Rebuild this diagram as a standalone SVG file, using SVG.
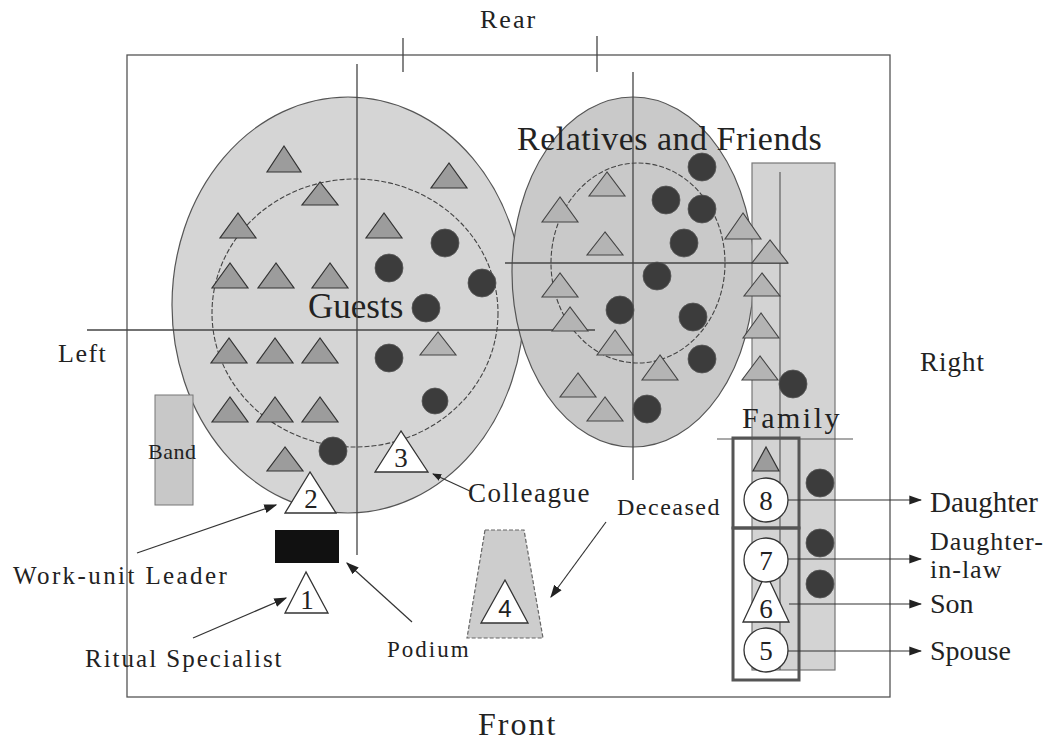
<svg xmlns="http://www.w3.org/2000/svg" width="1057" height="740" viewBox="0 0 1057 740">
<defs>
<style>
text{font-family:"Liberation Serif","Times New Roman",serif;fill:#222}
.ax{stroke:#444;stroke-width:1.3;fill:none}
.gt{fill:#9c9c9c;stroke:#333;stroke-width:1.2}
.lt{fill:#b4b4b4;stroke:#444;stroke-width:1.1}
.dc{fill:#3c3c3c;stroke:#555;stroke-width:0.8}
.wt{fill:#fff;stroke:#333;stroke-width:1.3}
.num{font-size:27px;text-anchor:middle}
.lbl{stroke:#333;stroke-width:1.2;fill:none}
.box{fill:none;stroke:#555;stroke-width:3}
</style>
<marker id="ah" viewBox="0 0 10 10" refX="9" refY="5" markerWidth="9" markerHeight="9" orient="auto" markerUnits="userSpaceOnUse">
<path d="M0,1 L10,5 L0,9 z" fill="#222"/>
</marker>
<marker id="ah2" viewBox="0 0 10 10" refX="9" refY="5" markerWidth="13" markerHeight="13" orient="auto" markerUnits="userSpaceOnUse">
<path d="M0,1.5 L10,5 L0,8.5 z" fill="#222"/>
</marker>
</defs>
<rect width="1057" height="740" fill="#fff"/>

<g id="frame">
<rect x="127" y="55" width="763" height="642" fill="none" stroke="#555" stroke-width="1.3"/>
<line class="ax" x1="403" y1="38" x2="403" y2="72"/>
<line class="ax" x1="597" y1="36" x2="597" y2="72"/>
<text x="480" y="28" font-size="26" letter-spacing="2">Rear</text>
<text x="478" y="735" font-size="32" letter-spacing="2">Front</text>
<text x="58" y="362" font-size="26" letter-spacing="1.5">Left</text>
<text x="920" y="371" font-size="27" letter-spacing="1">Right</text>
</g>

<g id="guests">
<ellipse cx="348" cy="305" rx="176" ry="208" fill="#d5d5d5" stroke="#555" stroke-width="1.2"/>
<ellipse cx="355" cy="313" rx="143" ry="134" fill="none" stroke="#444" stroke-width="1.1" stroke-dasharray="5 2"/>
<text x="308" y="318" font-size="35">Guests</text>
</g>

<g id="relatives">
<ellipse cx="633" cy="272" rx="121" ry="175" fill="#c9c9c9" stroke="#555" stroke-width="1.2"/>
<ellipse cx="638" cy="263" rx="87" ry="100" fill="none" stroke="#444" stroke-width="1.1" stroke-dasharray="5 2"/>
<text x="517" y="150" font-size="34" letter-spacing="0.5">Relatives and Friends</text>
</g>

<g id="family-area">
<rect x="752" y="163" width="83" height="507" fill="#d3d3d3" stroke="#777" stroke-width="1.2"/>
<line x1="780" y1="172" x2="780" y2="670" stroke="#555" stroke-width="1.1"/>
<text x="742" y="428" font-size="30" letter-spacing="2.5">Family</text>
<line x1="717" y1="439" x2="853" y2="439" stroke="#555" stroke-width="1.1"/>
</g>

<g id="axes">
<line class="ax" x1="357" y1="64" x2="357" y2="555"/>
<line class="ax" x1="87" y1="330" x2="595" y2="330"/>
<line class="ax" x1="633" y1="72" x2="633" y2="480"/>
<line class="ax" x1="505" y1="263" x2="788" y2="263"/>
</g>

<g id="guest-people">
<polygon class="gt" points="284,146 267,172 301,172"/>
<polygon class="gt" points="449,163 431,188 467,188"/>
<polygon class="gt" points="320,182 302,205 338,205"/>
<polygon class="gt" points="238,213 220,238 256,238"/>
<polygon class="gt" points="384,213 366,238 402,238"/>
<polygon class="gt" points="230,263 212,288 248,288"/>
<polygon class="gt" points="276,263 258,288 294,288"/>
<polygon class="gt" points="330,263 312,288 348,288"/>
<polygon class="gt" points="229,338 211,363 247,363"/>
<polygon class="gt" points="275,338 257,363 293,363"/>
<polygon class="gt" points="320,338 302,363 338,363"/>
<polygon class="lt" points="438,332 420,355 456,355"/>
<polygon class="gt" points="230,397 212,422 248,422"/>
<polygon class="gt" points="275,397 257,422 293,422"/>
<polygon class="gt" points="320,397 302,422 338,422"/>
<polygon class="gt" points="285,447 267,471 303,471"/>
<circle class="dc" cx="445" cy="243" r="14"/>
<circle class="dc" cx="389" cy="268" r="14"/>
<circle class="dc" cx="482" cy="283" r="14"/>
<circle class="dc" cx="426" cy="308" r="14"/>
<circle class="dc" cx="389" cy="358" r="14"/>
<circle class="dc" cx="435" cy="401" r="13"/>
<circle class="dc" cx="333" cy="451" r="14"/>
</g>

<g id="relative-people">
<polygon class="lt" points="607,172 589,196 625,196"/>
<polygon class="lt" points="560,197 542,222 578,222"/>
<polygon class="lt" points="605,232 587,255 623,255"/>
<polygon class="lt" points="743,213 725,239 761,239"/>
<polygon class="lt" points="770,240 752,263 788,263"/>
<polygon class="lt" points="560,273 542,297 578,297"/>
<polygon class="lt" points="762,273 744,296 780,296"/>
<polygon class="lt" points="570,307 552,331 588,331"/>
<polygon class="lt" points="615,330 597,355 633,355"/>
<polygon class="lt" points="761,313 743,338 779,338"/>
<polygon class="lt" points="660,355 642,380 678,380"/>
<polygon class="lt" points="760,356 742,380 778,380"/>
<polygon class="lt" points="578,373 560,397 596,397"/>
<polygon class="lt" points="605,397 587,421 623,421"/>
<circle class="dc" cx="702" cy="167" r="14"/>
<circle class="dc" cx="666" cy="200" r="14"/>
<circle class="dc" cx="702" cy="209" r="14"/>
<circle class="dc" cx="684" cy="243" r="14"/>
<circle class="dc" cx="657" cy="276" r="14"/>
<circle class="dc" cx="620" cy="310" r="14"/>
<circle class="dc" cx="693" cy="317" r="14"/>
<circle class="dc" cx="702" cy="359" r="14"/>
<circle class="dc" cx="647" cy="409" r="14"/>
<circle class="dc" cx="793" cy="384" r="14"/>
</g>

<g id="band">
<rect x="155" y="395" width="38" height="110" fill="#c8c8c8" stroke="#777" stroke-width="1"/>
<text x="148" y="459" font-size="22" letter-spacing="0.5">Band</text>
</g>

<g id="podium">
<rect x="275" y="530" width="64" height="33" fill="#111"/>
</g>

<g id="coffin">
<polygon points="485,530 524,530 543,638 467,638" fill="#cdcdcd" stroke="#666" stroke-width="1.2" stroke-dasharray="4 2"/>
</g>

<g id="p1"><polygon class="wt" points="306,572 285,613 328,613"/><text class="num" x="307" y="609" font-size="25">1</text></g>
<g id="p2"><polygon class="wt" points="310,472 285,513 336,513"/><text class="num" x="311" y="508" font-size="26">2</text></g>
<g id="p3"><polygon class="wt" points="401,431 375,472 428,472"/><text class="num" x="401" y="467" font-size="26">3</text></g>
<g id="p4"><polygon class="wt" points="505,580 481,623 528,623"/><text x="505" y="617" font-size="24" text-anchor="middle" style="font-family:'Liberation Sans',Arial,sans-serif">4</text></g>

<g id="family">
<rect class="box" x="733" y="438" width="66" height="90"/>
<rect class="box" x="733" y="528" width="66" height="152"/>
<polygon class="gt" points="766,447 753,471 779,471"/>
<g id="p6"><polygon class="wt" points="766,573 743,622 789,622"/><text class="num" x="766" y="618">6</text></g>
<g id="p8"><circle class="wt" cx="766" cy="500" r="22"/><text class="num" x="766" y="510">8</text></g>
<g id="p7"><circle class="wt" cx="766" cy="560" r="22"/><text class="num" x="766" y="570">7</text></g>
<g id="p5"><circle class="wt" cx="766" cy="650" r="22"/><text class="num" x="766" y="660">5</text></g>
<circle class="dc" cx="820" cy="483" r="14"/>
<circle class="dc" cx="820" cy="543" r="14"/>
<circle class="dc" cx="820" cy="584" r="14"/>
</g>

<g id="labels">
<text x="468" y="502" font-size="27" letter-spacing="1.5">Colleague</text>
<text x="617" y="515" font-size="24" letter-spacing="1.5">Deceased</text>
<text x="13" y="584" font-size="25" letter-spacing="2.4">Work-unit Leader</text>
<text x="85" y="667" font-size="25" letter-spacing="2">Ritual Specialist</text>
<text x="387" y="657" font-size="23" letter-spacing="2">Podium</text>
<text x="930" y="512" font-size="29">Daughter</text>
<text x="930" y="550" font-size="26" letter-spacing="1">Daughter-</text>
<text x="930" y="578" font-size="26" letter-spacing="1">in-law</text>
<text x="930" y="613" font-size="28">Son</text>
<text x="930" y="660" font-size="28">Spouse</text>
</g>

<g id="connectors">
<line class="lbl" x1="472" y1="492" x2="433" y2="474" marker-end="url(#ah)"/>
<line class="lbl" x1="137" y1="553" x2="276" y2="505" marker-end="url(#ah2)"/>
<line class="lbl" x1="193" y1="638" x2="286" y2="598" marker-end="url(#ah2)"/>
<line class="lbl" x1="412" y1="622" x2="347" y2="563" marker-end="url(#ah2)"/>
<line class="lbl" x1="606" y1="522" x2="551" y2="597" marker-end="url(#ah2)"/>
<line class="lbl" x1="788" y1="500" x2="921" y2="500" marker-end="url(#ah2)"/>
<line class="lbl" x1="788" y1="559" x2="921" y2="559" marker-end="url(#ah2)"/>
<line class="lbl" x1="789" y1="604" x2="921" y2="604" marker-end="url(#ah2)"/>
<line class="lbl" x1="788" y1="651" x2="921" y2="651" marker-end="url(#ah2)"/>
</g>
</svg>
